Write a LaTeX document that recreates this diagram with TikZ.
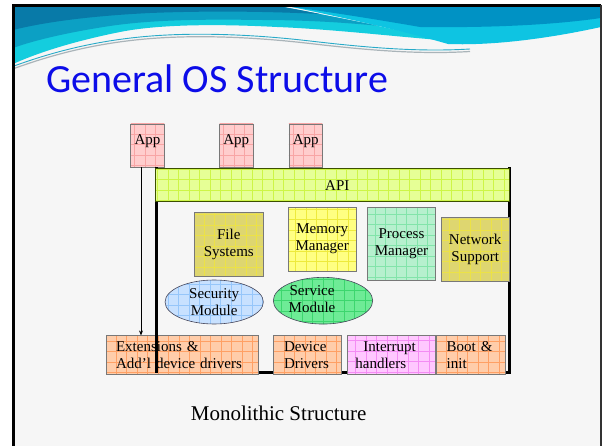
\documentclass[tikz,border=0pt]{standalone}
\usepackage{fontspec}
\setmainfont{Liberation Serif}
\newfontfamily\headfont{Carlito}
\usetikzlibrary{shapes.geometric,arrows.meta}

\definecolor{slidebg}{RGB}{246,246,246}
\definecolor{hdtopA}{RGB}{8,122,168}
\definecolor{hdmidA}{RGB}{12,160,196}
\definecolor{hdbotA}{RGB}{20,205,222}
\definecolor{hdtopB}{RGB}{0,146,196}
\definecolor{hdbotB}{RGB}{14,196,226}
\definecolor{swline}{RGB}{40,170,200}
\definecolor{swgray}{RGB}{170,180,185}
\definecolor{titleblue}{RGB}{12,12,232}
\definecolor{boxline}{RGB}{120,120,120}
\definecolor{ovalline}{RGB}{70,70,90}
\definecolor{apiline}{RGB}{60,80,0}
\definecolor{appfill}{RGB}{255,205,205}
\definecolor{appgrid}{RGB}{248,165,165}
\definecolor{apifill}{RGB}{230,255,150}
\definecolor{apigrid}{RGB}{205,245,70}
\definecolor{olivefill}{RGB}{222,214,112}
\definecolor{olivegrid}{RGB}{236,226,70}
\definecolor{memfill}{RGB}{255,255,130}
\definecolor{memgrid}{RGB}{238,234,60}
\definecolor{procfill}{RGB}{182,240,206}
\definecolor{procgrid}{RGB}{130,228,170}
\definecolor{secfill}{RGB}{200,225,255}
\definecolor{secgrid}{RGB}{150,198,250}
\definecolor{svcfill}{RGB}{110,235,150}
\definecolor{svcgrid}{RGB}{60,214,110}
\definecolor{salfill}{RGB}{255,205,170}
\definecolor{salgrid}{RGB}{255,160,100}
\definecolor{intfill}{RGB}{255,200,255}
\definecolor{intgrid}{RGB}{244,140,244}

\begin{document}
\begin{tikzpicture}[x=1pt,y=-1pt,
  txt/.style={font=\fontsize{15}{17}\selectfont, align=center, inner sep=0pt},
  cell/.style n args={3}{draw=#1, line width=0.6pt, fill=#2, inner sep=0pt,
    path picture={\draw[#3, line width=0.5pt]
      ([shift={(-20pt,20pt)}]path picture bounding box.north west) grid[step=10.5pt]
      ([shift={(20pt,-20pt)}]path picture bounding box.south east);}},
  appbox/.style={cell={boxline}{appfill}{appgrid}, txt, minimum width=33.5pt,
    minimum height=43pt, text height=10.5pt, text depth=12pt},
  lowbox/.style={txt, align=left, minimum height=38.3pt}
]
\useasboundingbox (0,0) rectangle (602,446);

% slide page
\fill[white] (0,0) rectangle (602,446);
\fill[slidebg] (13,6) rectangle (601,446);

% kernel frame corners and the arrow's column
\coordinate (fbl) at (156.5,372.5);
\coordinate (fbr) at (509.5,372.5);
\coordinate (arrx) at (141,0);

% applications and API
\node[appbox] (app1) at (147.5,145.5) {App};
\node[appbox] (app2) at (236.3,145.5) {App};
\node[appbox] (app3) at (305.7,145.5) {App};

\draw[line width=2.4pt] (app1.south -| fbl) -- (fbl) -- (fbr) -- (app1.south -| fbr);

\node[cell={apiline}{apifill}{apigrid}, line width=1.4pt, txt, minimum width=354pt,
  minimum height=33pt] (api) at (332.3,185.2) {\hspace*{10pt}API};

% kernel components
\node[cell={boxline}{olivefill}{olivegrid}, txt, minimum width=69pt, minimum height=63.7pt]
  (fs) at (228.8,244.2) {File\\Systems};
\node[cell={boxline}{memfill}{memgrid}, txt, minimum width=67.7pt, minimum height=63.7pt]
  (mm) at (322.2,239.2) {Memory\\Manager};
\node[cell={boxline}{procfill}{procgrid}, txt, minimum width=68.4pt, minimum height=73.4pt]
  (pm) at (401.5,244) {Process\\Manager};
\node[cell={boxline}{olivefill}{olivegrid}, txt, minimum width=68.3pt, minimum height=63.7pt]
  (ns) at (475.2,249.2) {Network\\Support};

\node[cell={ovalline}{secfill}{secgrid}, ellipse, txt, minimum width=98.3pt,
  minimum height=44pt] (sec) at (214.2,302) {Security\\Module};
\node[cell={ovalline}{svcfill}{svcgrid}, ellipse, minimum width=99.4pt,
  minimum height=46.7pt] (svc) at (323,300.7) {};
\node[txt] (svctext) at ([shift={(-11pt,2pt)}]svc.center) {Service\\Module};

% low-level layer
\node[cell={boxline}{salfill}{salgrid}, lowbox, inner xsep=10pt, text width=132.3pt]
  (ext) at (182.2,354.9) {Extensions \&\\Add’l device drivers};
\node[cell={boxline}{salfill}{salgrid}, lowbox, inner xsep=10.7pt, text width=47pt]
  (dd) at (307.5,354.9) {Device\\Drivers};
\node[cell={boxline}{intfill}{intgrid}, lowbox, inner xsep=8pt, text width=71.7pt]
  (ih) at (391.2,354.9) {\hspace*{8pt}Interrupt\\handlers};
\node[cell={boxline}{salfill}{salgrid}, lowbox, inner xsep=10.7pt, text width=47.6pt]
  (bi) at (470.5,354.9) {Boot \&\\init};

\draw[line width=2.4pt] (fbl |- ext.north) -- (fbl);

% call path from an application down to the extensions
\draw[-{Stealth[length=5pt,width=4pt]}, line width=0.7pt] (app1.south -| arrx) -- (ext.north -| arrx);

% caption
\node[font=\fontsize{21}{21}\selectfont, anchor=base west, inner sep=0pt]
  (cap) at (190.7,420.7) {Monolithic Structure};

% header waves: nested solid layers give a top-to-bottom colour ramp
\fill[hdbotA] (13,7) -- (283,7) .. controls (340,18) and (400,30) .. (440,40)
    .. controls (400,37) and (330,29) .. (277,27)
    .. controls (220,24) and (160,24) .. (120,32)
    .. controls (70,42) and (35,54) .. (13,64) -- cycle;
\fill[hdmidA] (13,7) -- (283,7) .. controls (320,14) and (350,20) .. (380,26)
    .. controls (340,22) and (300,20) .. (260,20)
    .. controls (200,19) and (150,20) .. (110,26)
    .. controls (70,32) and (35,40) .. (13,48) -- cycle;
\fill[hdtopA] (13,7) -- (283,7) .. controls (300,10) and (310,12) .. (320,14)
    .. controls (260,11) and (200,11) .. (150,13)
    .. controls (90,16) and (45,22) .. (13,30) -- cycle;
\fill[hdbotB] (292,7) -- (601,7) -- (601,27) .. controls (560,36) and (500,46) .. (448,44)
    .. controls (400,30) and (340,17) .. (292,7) -- cycle;
\fill[hdtopB] (292,7) -- (601,7) -- (601,18) .. controls (560,24) and (500,28) .. (420,27)
    .. controls (380,20) and (330,12) .. (292,7) -- cycle;
\draw[swline, line width=0.9pt]
  (14,66) .. controls (50,53) and (90,42) .. (140,37)
  .. controls (190,32) and (250,34) .. (310,41)
  .. controls (370,48) and (420,52) .. (470,49);
\draw[swgray, line width=1.2pt]
  (14,68.5) .. controls (50,55.5) and (90,44.5) .. (140,39.5)
  .. controls (190,34.5) and (250,36.5) .. (310,43.5)
  .. controls (370,50.5) and (420,54.5) .. (470,51.5);

\draw[black, line width=3pt] (13.5,446) -- (13.5,5.5) -- (601,5.5);
\draw[black!80, line width=2pt] (601,5) -- (601,446);

% title
\node[font=\headfont\fontsize{40}{40}\selectfont, text=titleblue, anchor=base west,
  inner sep=0pt] (title) at (46,93) {General OS Structure};
\end{tikzpicture}
\end{document}
